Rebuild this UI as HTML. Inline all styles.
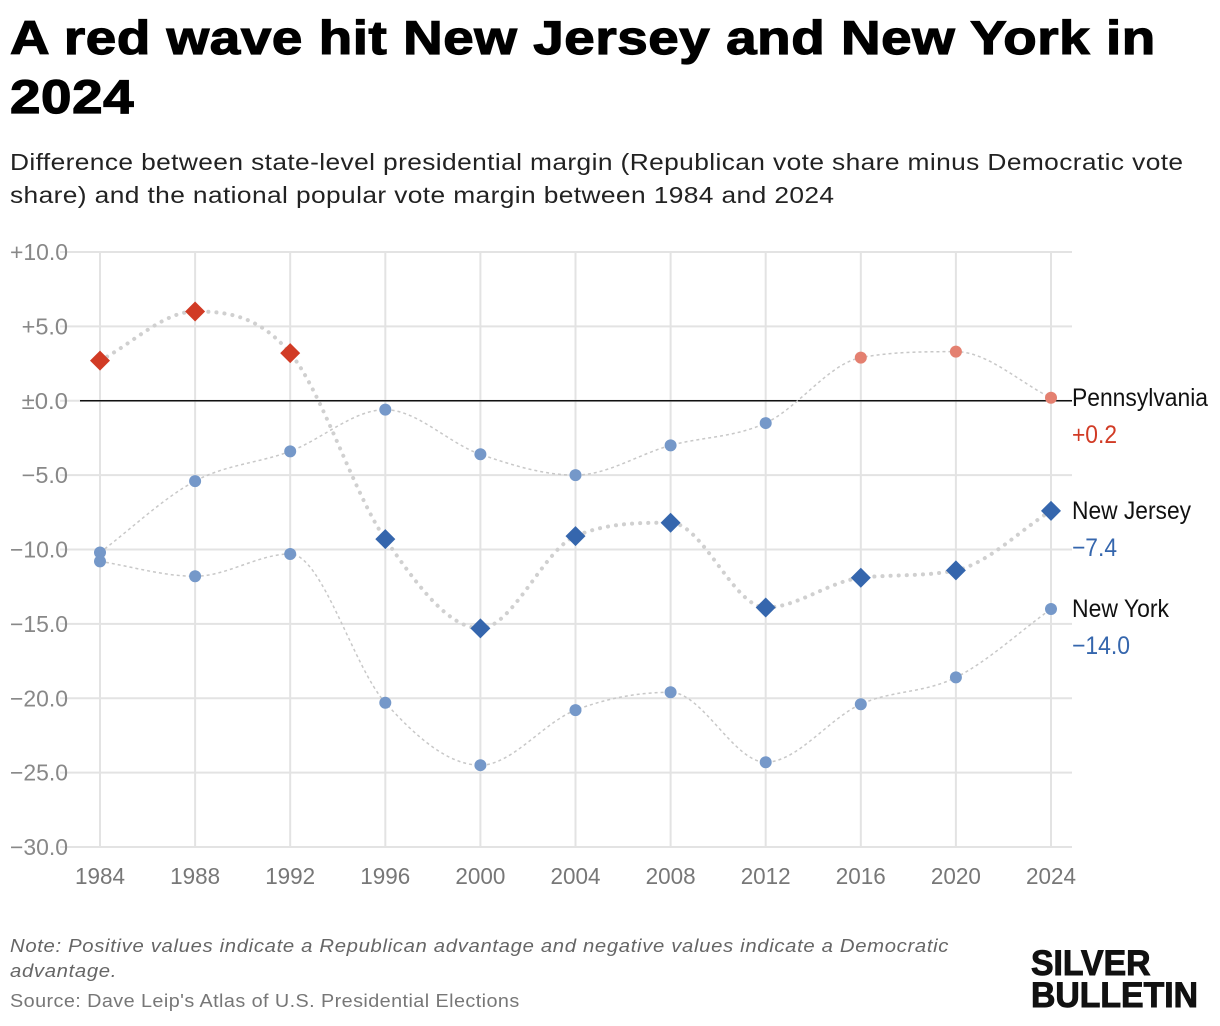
<!DOCTYPE html>
<html><head><meta charset="utf-8"><style>
body{margin:0;width:1220px;height:1026px;background:#fff;font-family:"Liberation Sans",sans-serif;position:relative;overflow:hidden}
.t{position:absolute;left:10px;top:8px;font-size:47px;font-weight:900;line-height:59px;color:#000;letter-spacing:0.5px;-webkit-text-stroke:1.2px #000;transform:scaleX(1.165);transform-origin:0 0;white-space:nowrap}
.s{position:absolute;left:10px;top:146px;width:1078px;font-size:23.5px;line-height:33px;color:#222;letter-spacing:0.35px;transform:scaleX(1.12);transform-origin:0 0}
.n{position:absolute;left:10px;top:933px;font-size:18.5px;font-style:italic;color:#666;line-height:25px;width:875px;letter-spacing:0.6px;transform:scaleX(1.097);transform-origin:0 0}
.src{position:absolute;left:10px;top:990px;font-size:18.5px;color:#777;letter-spacing:0.4px;transform:scaleX(1.07);transform-origin:0 0;white-space:nowrap}
.logo{position:absolute;left:1031px;top:948px;font-size:35px;font-weight:900;line-height:32px;color:#111;-webkit-text-stroke:1px #111;transform:scaleX(0.965);transform-origin:0 0}
svg{position:absolute;left:0;top:0}
</style></head><body>
<div class="t">A red wave hit New Jersey and New York in<br>2024</div>
<div class="s">Difference between state-level presidential margin (Republican vote share minus Democratic vote share) and the national popular vote margin between 1984 and 2024</div>
<svg id="c" width="1220" height="1026"></svg>
<div class="n">Note: Positive values indicate a Republican advantage and negative values indicate a Democratic advantage.</div>
<div class="src">Source: Dave Leip's Atlas of U.S. Presidential Elections</div>
<div class="logo">SILVER<br>BULLETIN</div>
<script>
const years=[1984,1988,1992,1996,2000,2004,2008,2012,2016,2020,2024];
const nj=[2.7,6.0,3.2,-9.3,-15.3,-9.1,-8.2,-13.9,-11.9,-11.4,-7.4];
const pa=[-10.2,-5.4,-3.4,-0.6,-3.6,-5.0,-3.0,-1.5,2.9,3.3,0.2];
const ny=[-10.8,-11.8,-10.3,-20.3,-24.5,-20.8,-19.6,-24.3,-20.4,-18.6,-14.0];
const yTicks=[10,5,0,-5,-10,-15,-20,-25,-30];
const yTickLabels=["+10.0","+5.0","±0.0","−5.0","−10.0","−15.0","−20.0","−25.0","−30.0"];
const labels=["Pennsylvania","New Jersey","New York"];
const lastVals=["+0.2","−7.4","−14.0"];
const NS="http://www.w3.org/2000/svg",svg=document.getElementById('c');
const x=v=>100+(v-1984)*(951/40);
const y=v=>400.75-v*14.875;
function el(t,a,p){const e=document.createElementNS(NS,t);for(const k in a)e.setAttribute(k,a[k]);(p||svg).appendChild(e);return e;}
const cf='"Liberation Sans Narrow","Liberation Sans",sans-serif';
function ntext(attrs,str,w){const t=el('text',attrs);t.textContent=str;t.setAttribute('textLength',w);t.setAttribute('lengthAdjust','spacingAndGlyphs');return t;}
yTicks.forEach((t,i)=>{
 const l=el('line',{x1:60,x2:1072,y1:y(t),y2:y(t),stroke:'#e3e3e3','stroke-width':2});
 
 const s=yTickLabels[i];const w=s.length*11.6;
 const tx=ntext({x:68-w,y:y(t)+8,'font-size':23,fill:'#888','font-family':cf},s,w);
 
});
years.forEach(yr=>{
 const l=el('line',{x1:x(yr),x2:x(yr),y1:252,y2:847,stroke:'#e3e3e3','stroke-width':2});
 
 const tx=ntext({x:x(yr)-25,y:884,'font-size':23,fill:'#777','font-family':cf},String(yr),50);
 
});
const z=el('line',{x1:80,x2:1072,y1:y(0),y2:y(0),stroke:'#111','stroke-width':1.5});

function path(vals){
 const p=vals.map((v,i)=>[x(years[i]),y(v)]);const n=p.length;
 const dd=[];for(let i=0;i<n-1;i++)dd.push((p[i+1][1]-p[i][1])/(p[i+1][0]-p[i][0]));
 const m=[dd[0]];for(let i=1;i<n-1;i++){m.push(dd[i-1]*dd[i]<=0?0:(dd[i-1]+dd[i])/2);}m.push(dd[n-2]);
 for(let i=0;i<n-1;i++){if(dd[i]===0){m[i]=m[i+1]=0;continue;}const a=m[i]/dd[i],b=m[i+1]/dd[i],s=a*a+b*b;if(s>9){const t=3/Math.sqrt(s);m[i]=t*a*dd[i];m[i+1]=t*b*dd[i];}}
 let d='M'+p[0];
 for(let i=0;i<n-1;i++){const h=(p[i+1][0]-p[i][0])/3;
  d+=` C${p[i][0]+h},${p[i][1]+m[i]*h} ${p[i+1][0]-h},${p[i+1][1]-m[i+1]*h} ${p[i+1][0]},${p[i+1][1]}`;}
 return d;}
[[pa,'pennsylvania-line'],[ny,'new-york-line']].forEach(([v,n])=>{
 const l=el('path',{d:path(v),fill:'none',stroke:'#c8c8c8','stroke-width':1.5,'stroke-dasharray':'3 3'});
 });
const nl=el('path',{d:path(nj),fill:'none',stroke:'#d0d0d0','stroke-width':4,'stroke-dasharray':'0.1 8','stroke-linecap':'round'});

[[pa,'pennsylvania-point'],[ny,'new-york-point']].forEach(([v,n])=>v.forEach((d,i)=>{
 const c=el('circle',{cx:x(years[i]),cy:y(d),r:6,fill:d>0?'#e48070':'#7598c9'});
 }));
nj.forEach((d,i)=>{const cx=x(years[i]),cy=y(d),s=10;
 const p=el('polygon',{points:`${cx},${cy-s} ${cx+s},${cy} ${cx},${cy+s} ${cx-s},${cy}`,fill:d>0?'#d13b25':'#3566ad'});
 });
const lw=[136,119,97],vw=[45,45,58];
[[pa,0],[nj,1],[ny,2]].forEach(([v,k])=>{const yy=y(v[v.length-1]);
 const a=ntext({x:1072,y:yy+8,'font-size':25,fill:'#111','font-family':cf},labels[k],lw[k]);
 
 const b=ntext({x:1072,y:yy+45,'font-size':25,fill:v[v.length-1]>0?'#d13b25':'#3566ad','font-family':cf},lastVals[k],vw[k]);
 });
</script>
</body></html>
